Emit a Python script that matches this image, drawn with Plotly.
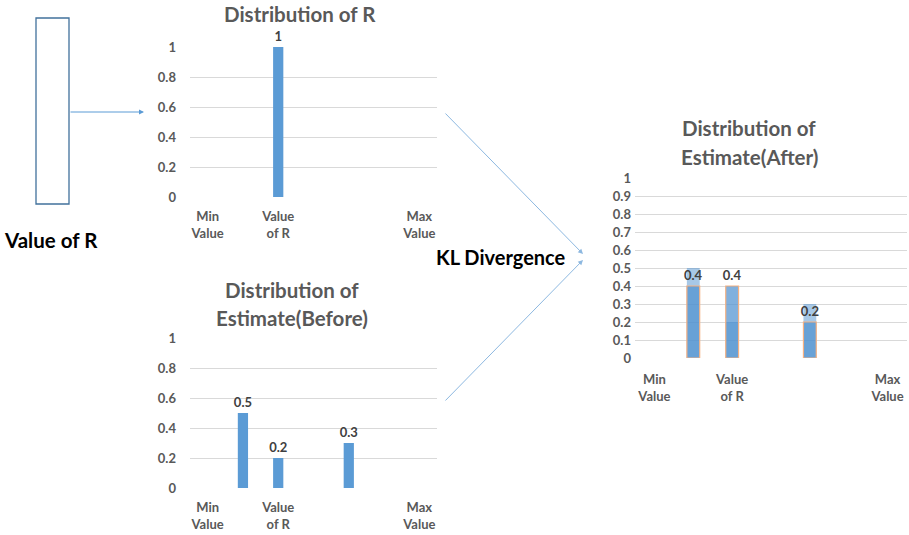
import plotly.graph_objects as go

# ---- data ----
positions = [0, 1, 2, 3, 4, 5, 6]
category_labels = ["Min<br>Value", "", "Value<br>of R", "", "", "", "Max<br>Value"]
dist_r = [0, 0, 1, 0, 0, 0, 0]
estimate_before = [0, 0.5, 0.2, 0, 0.3, 0, 0]
estimate_after = [0, 0.4, 0.4, 0, 0.2, 0, 0]

W, H = 909, 535
FONT = "Lato"
GRAY = "#595959"
BLUE = "#5B9BD5"
GRID = "#D9D9D9"


def px(x):
    return x / W


def py(y):
    return 1 - y / H


def labels(vals):
    return [("%g" % v) if v > 0 else "" for v in vals]


label_font = dict(family=FONT, size=13, color="#404040", weight="bold")

fig = go.Figure()

# Distribution of R
fig.add_trace(go.Bar(
    x=positions, y=dist_r, xaxis="x", yaxis="y", width=0.29,
    marker=dict(color=BLUE, line=dict(width=0)),
    text=labels(dist_r), textposition="outside", constraintext="none",
    textfont=label_font, cliponaxis=False,
))

# Distribution of Estimate (Before)
fig.add_trace(go.Bar(
    x=positions, y=estimate_before, xaxis="x2", yaxis="y2", width=0.29,
    marker=dict(color=BLUE, line=dict(width=0)),
    text=labels(estimate_before), textposition="outside", constraintext="none",
    textfont=label_font, cliponaxis=False,
))

# Distribution of Estimate (After), drawn over the previous estimate
fig.add_trace(go.Bar(
    x=positions, y=estimate_before, xaxis="x3", yaxis="y3", width=0.33,
    marker=dict(color="rgba(80,145,208,0.5)", line=dict(width=0)),
))
fig.add_trace(go.Bar(
    x=positions, y=estimate_after, xaxis="x3", yaxis="y3", width=0.33,
    marker=dict(color="rgba(80,145,208,0.72)",
                line=dict(width=[1.2 if v > 0 else 0 for v in estimate_after], color="#F4B183")),
    text=labels(estimate_after), textposition="outside", constraintext="none",
    textfont=label_font, cliponaxis=False,
))


def xaxis(x0, x1, anchor, standoff):
    return dict(
        domain=[px(x0), px(x1)], anchor=anchor, range=[-0.5, 6.5], automargin=False,
        tickvals=positions, ticktext=category_labels, showgrid=False,
        zeroline=False, showline=False, ticks="", ticklabelstandoff=standoff,
        tickfont=dict(family=FONT, size=13, color=GRAY, weight="bold"),
    )


def yaxis(top, bottom, anchor, dtick, standoff):
    return dict(
        domain=[py(bottom), py(top)], anchor=anchor, range=[0, 1], automargin=False,
        dtick=dtick, showgrid=True, gridcolor=GRID, gridwidth=1,
        zeroline=False, showline=False, ticks="", ticklabelstandoff=standoff,
        tickfont=dict(family=FONT, size=13, color=GRAY, weight="bold"),
    )


annotations = []


def title(lines, cx, ys, size=20.5):
    for t, y in zip(lines, ys):
        annotations.append(dict(
            text="<b>%s</b>" % t, x=px(cx), y=py(y), xref="paper", yref="paper",
            showarrow=False, xanchor="center", yanchor="middle",
            font=dict(family=FONT, size=size, color=GRAY),
        ))


title(["Distribution of R"], 300, [14])
title(["Distribution of", "Estimate(Before)"], 292, [290, 318])
title(["Distribution of", "Estimate(After)"], 749, [128, 157])

for t, cx, cy, size in [("Value of R", 51, 240, 20.5), ("KL Divergence", 501, 257, 20)]:
    annotations.append(dict(
        text="<b>%s</b>" % t, x=px(cx), y=py(cy), xref="paper", yref="paper",
        showarrow=False, xanchor="center", yanchor="middle",
        font=dict(family=FONT, size=size, color="#000000"),
    ))


def arrow(tail, tip, color="#5B9BD5"):
    annotations.append(dict(
        text="", x=px(tip[0]), y=py(tip[1]), xref="paper", yref="paper",
        ax=tail[0] - tip[0], ay=tail[1] - tip[1], axref="pixel", ayref="pixel",
        showarrow=True, arrowhead=2, arrowsize=1, arrowwidth=1,
        arrowcolor=color, standoff=0,
    ))


arrow((69, 112), (144, 112))
arrow((444, 112), (583, 254), "#8DB8E0")
arrow((444, 402), (583, 260), "#8DB8E0")

fig.update_layout(
    width=W, height=H, margin=dict(l=0, r=0, t=0, b=0, autoexpand=False),
    paper_bgcolor="white", plot_bgcolor="white", showlegend=False,
    barmode="overlay",
    xaxis=xaxis(190, 437, "y", 10), yaxis=yaxis(47, 197, "x", 0.2, 13),
    xaxis2=xaxis(190, 437, "y2", 10), yaxis2=yaxis(338, 488, "x2", 0.2, 13),
    xaxis3=xaxis(635, 907, "y3", 12), yaxis3=yaxis(178, 358, "x3", 0.1, 3),
    annotations=annotations,
    shapes=[dict(type="rect", xref="paper", yref="paper",
                 x0=px(36), x1=px(69), y0=py(204), y1=py(18),
                 line=dict(color="#41719C", width=1.3), fillcolor="rgba(0,0,0,0)")],
)

fig.write_html("out.html")
